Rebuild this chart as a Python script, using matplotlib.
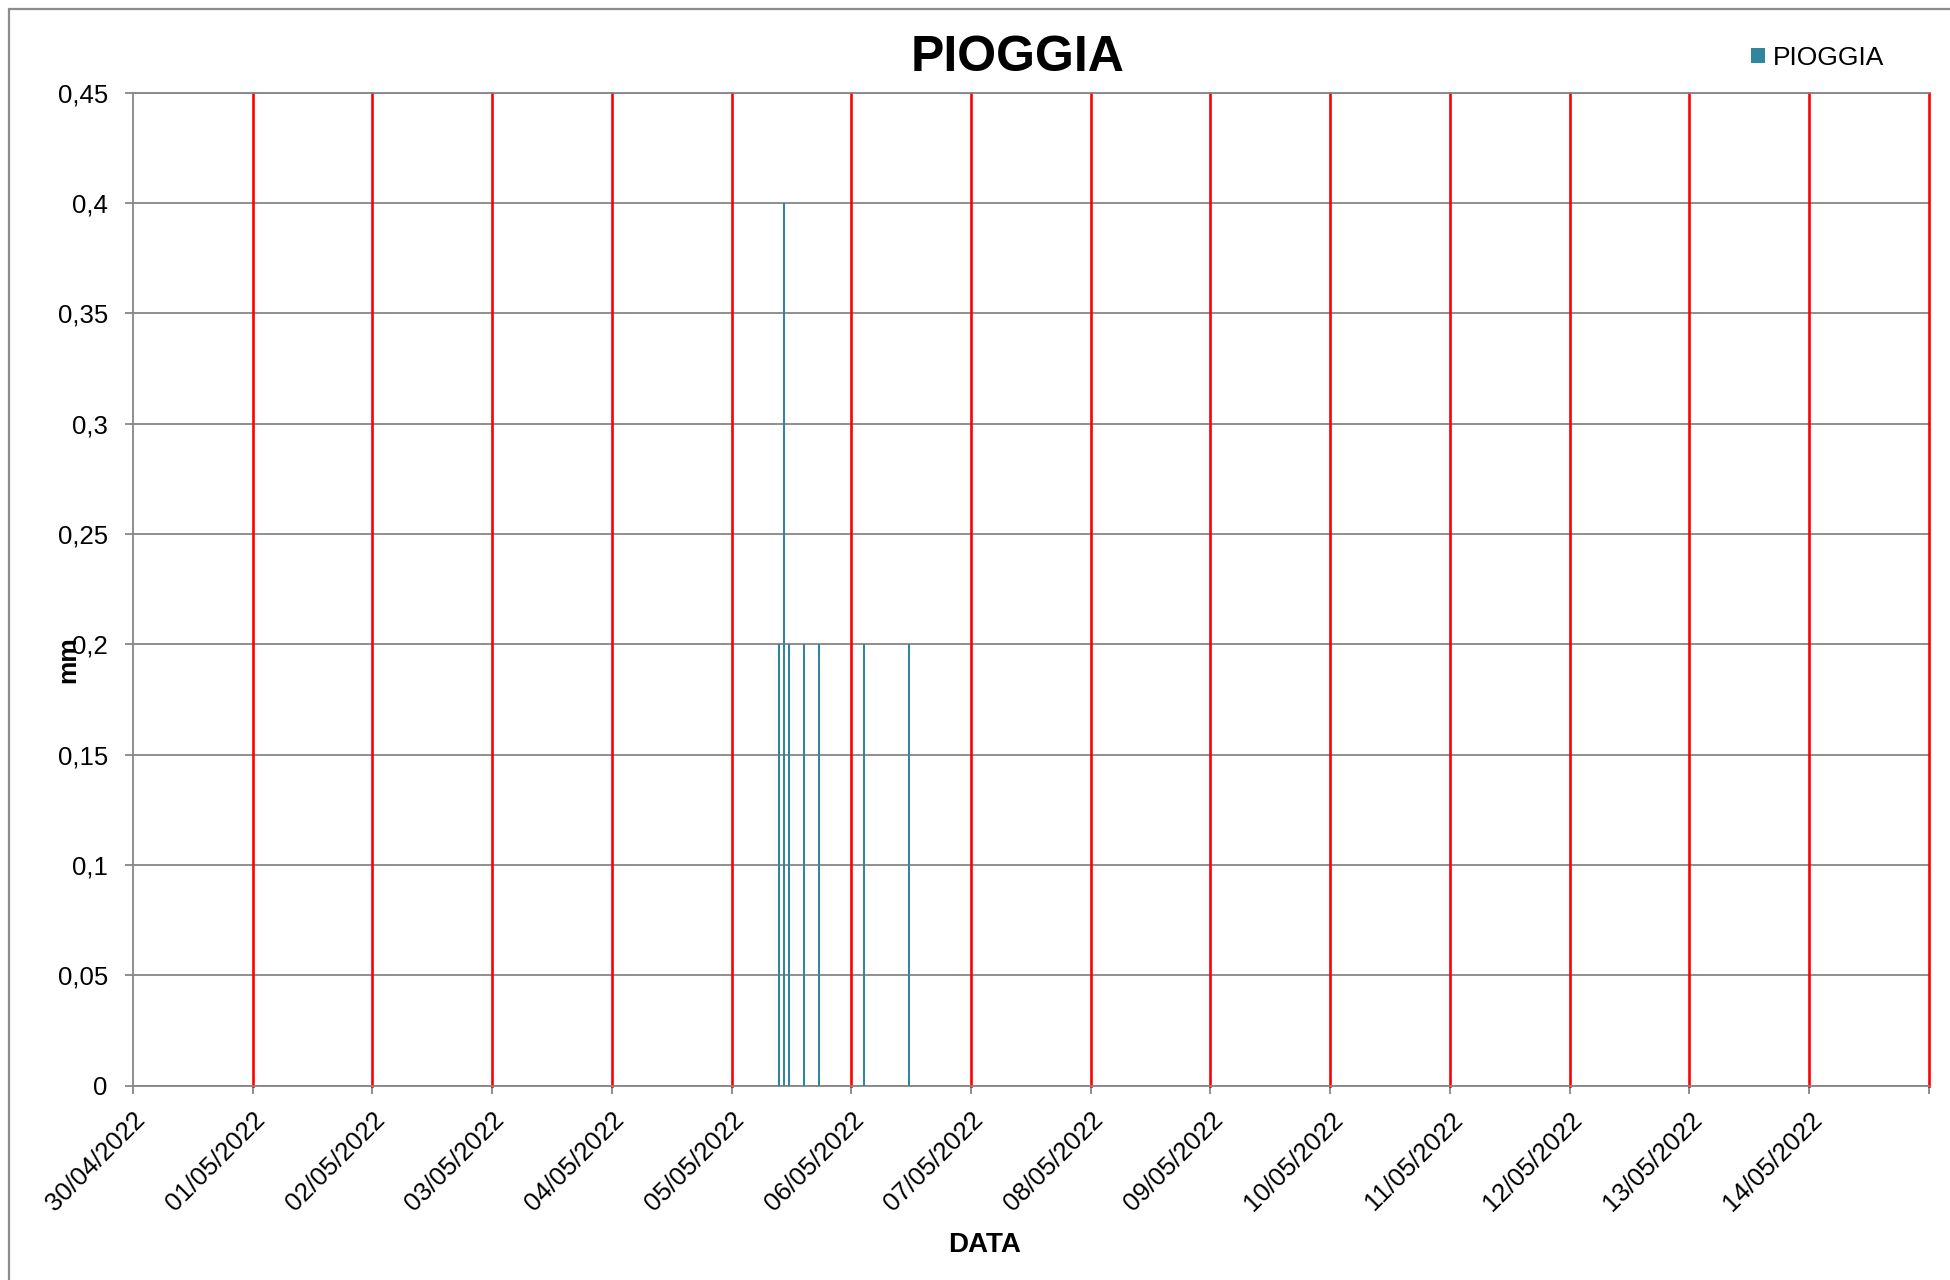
import matplotlib
matplotlib.use("Agg")
import matplotlib.pyplot as plt
from matplotlib.patches import Rectangle
import pandas as pd

# rain readings (mm)
rain_times = ["2022-05-05 09:36", "2022-05-05 10:36", "2022-05-05 11:36",
              "2022-05-05 14:36", "2022-05-05 17:36", "2022-05-06 02:36",
              "2022-05-06 11:36"]
rain_mm = [0.2, 0.4, 0.2, 0.2, 0.2, 0.2, 0.2]

day_ticks = pd.date_range("2022-04-30", "2022-05-15", freq="D")
day_labels = [d.strftime("%d/%m/%Y") for d in day_ticks[:-1]] + [""]
y_ticks = [0, 0.05, 0.1, 0.15, 0.2, 0.25, 0.3, 0.35, 0.4, 0.45]
y_labels = ["0", "0,05", "0,1", "0,15", "0,2", "0,25", "0,3", "0,35", "0,4", "0,45"]

plt.rcParams['font.family'] = ['Liberation Sans', 'DejaVu Sans']
grey = '#868686'
teal = '#31859C'

fig = plt.figure(figsize=(19.5, 12.8), dpi=100)
ax = fig.add_axes([0.0681, 0.1518, 0.9211, 0.7758])

# chart frame
fig.patches.append(Rectangle((9 / 1950, -0.05), 1.2, 1 - 9 / 1280 + 0.05,
                             transform=fig.transFigure, fill=False,
                             edgecolor='#8c8c8c', linewidth=1.6))

x = pd.to_datetime(rain_times)
ax.bar(x, rain_mm, width=0.016, color=teal, linewidth=0, label='PIOGGIA', zorder=3)

for d in day_ticks[1:]:
    ax.axvline(d, color='#ff0000', linewidth=1.9, zorder=2, clip_on=False)

ax.set_xlim(day_ticks[0], day_ticks[-1])
ax.set_ylim(0, 0.45)
ax.set_yticks(y_ticks)
ax.set_yticklabels(y_labels, fontsize=18.5)
ax.set_xticks(day_ticks)
ax.set_xticklabels(day_labels, fontsize=18.5, rotation=45, ha='right', va='top',
                   rotation_mode='anchor')
ax.yaxis.grid(True, color=grey, linewidth=1.3, zorder=1)
ax.set_axisbelow(True)
ax.tick_params(axis='both', direction='out', length=6, width=1.3, color=grey)
ax.tick_params(axis='y', pad=12)
ax.tick_params(axis='x', pad=10)
for side in ['left', 'bottom', 'top']:
    ax.spines[side].set_color(grey)
    ax.spines[side].set_linewidth(1.3)
ax.spines['right'].set_visible(False)

fig.text(1018 / 1950, 1 - 71 / 1280, "PIOGGIA", fontsize=36, fontweight='bold',
         ha='center', va='baseline')
fig.text(985 / 1950, 1 - 1252 / 1280, "DATA", fontsize=20, fontweight='bold',
         ha='center', va='baseline')
fig.text(68 / 1950, 1 - 660 / 1280, "mm", fontsize=19, fontweight='bold',
         rotation=90, ha='center', va='center')

ax.legend(loc='center left', bbox_to_anchor=(1751 / 1950, 1 - 58 / 1280),
          bbox_transform=fig.transFigure, frameon=False, fontsize=19,
          handlelength=0.52, handleheight=0.52, handletextpad=0.3, borderpad=0,
          borderaxespad=0)

fig.savefig("out.png", dpi=100)
